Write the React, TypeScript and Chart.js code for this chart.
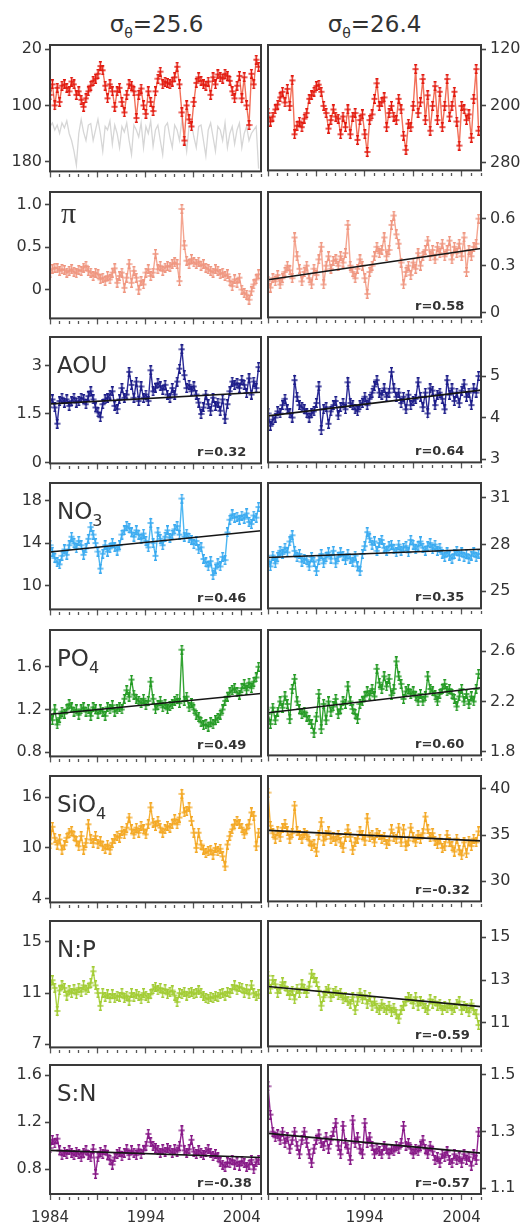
import React, { useEffect, useRef } from 'react';
import { Chart, registerables } from 'chart.js';

Chart.register(...registerables);

// sampling times, decimal years (quarterly)
const YEARS = [
  1984, 1984.25, 1984.5, 1984.75, 1985, 1985.25, 1985.5, 1985.75,
  1986, 1986.25, 1986.5, 1986.75, 1987, 1987.25, 1987.5, 1987.75,
  1988, 1988.25, 1988.5, 1988.75, 1989, 1989.25, 1989.5, 1989.75,
  1990, 1990.25, 1990.5, 1990.75, 1991, 1991.25, 1991.5, 1991.75,
  1992, 1992.25, 1992.5, 1992.75, 1993, 1993.25, 1993.5, 1993.75,
  1994, 1994.25, 1994.5, 1994.75, 1995, 1995.25, 1995.5, 1995.75,
  1996, 1996.25, 1996.5, 1996.75, 1997, 1997.25, 1997.5, 1997.75,
  1998, 1998.25, 1998.5, 1998.75, 1999, 1999.25, 1999.5, 1999.75,
  2000, 2000.25, 2000.5, 2000.75, 2001, 2001.25, 2001.5, 2001.75,
  2002, 2002.25, 2002.5, 2002.75, 2003, 2003.25, 2003.5, 2003.75,
  2004, 2004.25, 2004.5, 2004.75, 2005, 2005.25, 2005.5, 2005.75,
];

const YEAR_TICKS = [
  1984, 1985, 1986, 1987, 1988, 1989, 1990, 1991, 1992, 1993, 1994, 1995,
  1996, 1997, 1998, 1999, 2000, 2001, 2002, 2003, 2004, 2005, 2006,
];
const MAJOR_YEARS = [1984, 1989, 1994, 1999, 2004];
const LABELED_YEARS_LEFT = [1984, 1994, 2004];
const LABELED_YEARS_RIGHT = [1994, 2004];
const TREND_YEARS = [1984, 2006];

// depth of isopycnal (m) and grey mixed-layer line
const DEPTH_256 = [
  85, 70, 100, 75, 95, 72, 70, 75, 80, 66, 70,
  85, 80, 92, 102, 90, 80, 72, 65, 62, 55, 44,
  50, 72, 90, 70, 80, 102, 80, 75, 95, 110, 85,
  70, 72, 80, 118, 85, 76, 100, 112, 80, 95, 108,
  80, 62, 52, 70, 66, 68, 70, 66, 60, 45, 70,
  110, 150, 100, 120, 130, 95, 68, 60, 65, 70, 72,
  66, 85, 60, 70, 56, 60, 62, 55, 58, 65, 80,
  90, 72, 58, 90, 60, 100, 128, 55, 70, 35, 45,
];
const MLD_256 = [
  130, 125, 135, 128, 140, 125, 132, 122, 140, 150, 165,
  185, 140, 120, 138, 150, 128, 126, 150, 135, 120, 140,
  165, 130, 135, 122, 155, 128, 140, 160, 130, 138, 125,
  150, 170, 128, 135, 145, 125, 160, 130, 140, 122, 158,
  135, 128, 150, 170, 130, 125, 145, 160, 128, 135, 150,
  120, 140, 165, 130, 125, 145, 160, 130, 128, 150, 172,
  135, 125, 145, 165, 130, 135, 150, 125, 160, 140, 130,
  155, 135, 125, 160, 140, 130, 150, 140, 135, 130, 190,
];
const DEPTH_264 = [
  210, 222, 215, 205, 198, 188, 180, 195, 176, 200, 164,
  240, 228, 222, 230, 218, 210, 190, 185, 180, 172, 170,
  180, 200, 210, 232, 220, 205, 215, 218, 240, 215, 230,
  205, 240, 215, 210, 248, 220, 212, 240, 265, 220, 212,
  190, 168, 200, 195, 188, 230, 210, 200, 215, 220, 190,
  205, 242, 262, 225, 230, 200, 148, 210, 195, 162, 220,
  185, 235, 200, 172, 220, 180, 230, 200, 162, 215, 200,
  180, 222, 256, 200, 205, 220, 212, 245, 190, 148, 235,
];

const PI_256 = [
  0.2, 0.24, 0.26, 0.25, 0.22, 0.24, 0.23, 0.2, 0.22, 0.24, 0.21,
  0.19, 0.23, 0.22, 0.26, 0.28, 0.22, 0.2, 0.16, 0.2, 0.18, 0.12,
  0.14, 0.1, 0.16, 0.12, 0.2, 0.25, 0.08, 0.16, 0.2, 0.02, 0.14,
  0.3, 0.08, 0.22, 0.14, 0.0, 0.1, 0.06, 0.2, 0.24, 0.16, 0.2,
  0.42, 0.24, 0.28, 0.22, 0.26, 0.28, 0.27, 0.3, 0.32, 0.3, 0.1,
  0.95, 0.52, 0.34, 0.3, 0.36, 0.32, 0.3, 0.33, 0.28, 0.3, 0.26,
  0.24, 0.22, 0.2, 0.24, 0.22, 0.18, 0.2, 0.16, 0.18, 0.1, 0.04,
  0.12, 0.08, 0.14, 0.0, -0.04, -0.06, -0.12, -0.02, 0.06, 0.12, 0.18,
];
const PI_264 = [
  0.2, 0.16, 0.22, 0.2, 0.24, 0.18, 0.22, 0.26, 0.3, 0.27, 0.22,
  0.48, 0.36, 0.28, 0.2, 0.26, 0.3, 0.22, 0.18, 0.28, 0.24, 0.34,
  0.42, 0.18, 0.3, 0.36, 0.28, 0.33, 0.34, 0.3, 0.36, 0.32, 0.38,
  0.56, 0.3, 0.26, 0.22, 0.28, 0.34, 0.3, 0.22, 0.12, 0.26, 0.3,
  0.36, 0.42, 0.38, 0.4, 0.48, 0.36, 0.4, 0.56, 0.62, 0.5, 0.44,
  0.32, 0.18, 0.26, 0.3, 0.24, 0.32, 0.28, 0.38, 0.3, 0.36, 0.4,
  0.46, 0.36, 0.4, 0.34, 0.42, 0.38, 0.44, 0.36, 0.4, 0.46, 0.34,
  0.42, 0.38, 0.44, 0.36, 0.48, 0.26, 0.4, 0.36, 0.42, 0.44, 0.6,
];

const AOU_256 = [
  1.85, 1.95, 1.7, 1.2, 1.9, 2.0, 1.85, 1.95, 1.75, 1.9, 2.0,
  1.85, 1.9, 2.0, 1.95, 1.8, 2.05, 2.2, 1.95, 1.7, 1.55, 1.4,
  1.8, 1.95, 2.0, 2.1, 2.2, 1.75, 1.65, 1.95, 2.3, 2.0, 2.1,
  2.8, 2.4, 2.0, 2.5, 1.9, 2.35, 2.0, 2.1, 1.9, 2.85, 2.2,
  2.3, 2.45, 2.35, 2.25, 2.4, 2.1, 2.0, 2.3, 2.1, 2.5, 2.9,
  3.5, 2.7, 2.3, 2.4, 2.2, 2.35, 2.1, 1.85, 1.5, 1.7, 2.1,
  1.8, 1.6, 2.0, 1.75, 1.85, 1.6, 1.95, 1.35, 1.8, 2.2, 2.5,
  2.4, 2.45, 2.3, 2.55, 2.4, 2.15, 2.6, 2.1, 2.5, 2.3, 2.95,
];
const AOU_264 = [
  4.1, 3.8, 3.95, 4.0, 4.15, 4.1, 4.3, 4.45, 4.2, 4.1, 4.0,
  4.9, 4.5, 4.3, 4.25, 4.2, 4.1, 4.0, 4.1, 4.15, 4.35, 4.75,
  3.7, 4.2, 4.25, 3.85, 4.15, 4.3, 4.4, 4.05, 4.25, 4.35, 4.2,
  4.85, 4.35, 4.3, 4.2, 4.15, 4.3, 4.35, 4.5, 4.3, 4.45, 4.6,
  4.75, 4.9, 4.6, 4.55, 4.7, 4.5, 4.6, 5.1, 4.7, 4.5, 4.6,
  4.35, 4.5, 4.2, 4.55, 4.3, 4.4, 4.45, 4.85, 4.5, 4.25, 4.6,
  4.1, 4.7, 4.65, 4.3, 4.55, 4.6, 4.45, 4.2, 4.9, 4.55, 4.7,
  4.4, 4.6, 4.35, 4.65, 4.8, 4.5, 4.6, 4.3, 4.7, 4.6, 5.0,
];

const NO3_256 = [
  13.8, 13.2, 12.6, 12.2, 12.0, 12.8, 13.4, 12.9, 13.8, 14.6, 14.0,
  13.5, 14.2, 13.8, 12.9, 13.5, 14.4, 15.5, 14.8, 14.0, 13.2, 11.6,
  13.0, 13.8, 13.2, 13.5, 14.0, 13.6, 13.3, 13.8, 14.8, 15.2, 15.6,
  15.4, 15.0, 14.6, 15.2, 14.8, 14.4, 14.9, 14.2, 13.6, 15.9, 14.0,
  12.8, 15.0, 14.4, 13.8, 14.6, 15.2, 14.5, 14.8, 15.3, 15.6, 14.8,
  18.2, 14.6, 14.9, 14.5, 14.3, 13.9, 14.2, 13.4, 13.6, 12.5, 12.2,
  11.8, 12.3, 11.0, 11.6, 12.1, 11.8, 12.7, 12.4, 15.0, 16.2, 16.7,
  16.4, 16.5, 16.2, 16.6, 16.3, 16.8, 16.0, 15.8, 16.6, 16.4, 17.4,
];
const NO3_264 = [
  27.0, 26.6, 27.3, 26.8, 27.2, 27.6, 27.4, 27.8, 27.5, 28.2, 28.6,
  27.6, 27.2, 27.4, 26.9, 27.1, 27.0, 26.6, 27.2, 26.9, 26.3, 27.0,
  27.4, 26.8, 27.2, 27.5, 27.1, 27.6, 26.8, 27.2, 27.5, 27.3, 27.0,
  27.4, 27.1, 26.9, 27.3, 26.6, 26.3, 27.4, 27.9, 28.8, 28.4, 28.0,
  28.2, 27.6, 28.1, 28.3, 27.8, 27.6, 27.9, 28.0, 27.7, 27.5, 28.0,
  27.6, 27.8, 27.9, 27.5, 28.3, 28.0, 27.7, 27.9, 28.2, 27.8, 27.6,
  27.9, 28.1, 27.7, 28.0, 27.6, 27.8, 27.4, 27.2, 27.5, 27.3, 27.1,
  27.4, 27.6, 27.3, 27.5, 27.2, 27.4, 27.1, 27.3, 27.5, 27.2, 27.4,
];

const PO4_256 = [
  1.15, 1.1, 1.2, 1.06, 1.12, 1.18, 1.16, 1.2, 1.25, 1.22, 1.18,
  1.2, 1.15, 1.2, 1.22, 1.18, 1.2, 1.14, 1.22, 1.2, 1.16, 1.2,
  1.18, 1.14, 1.22, 1.2, 1.24, 1.18, 1.2, 1.22, 1.2, 1.3, 1.38,
  1.32, 1.48, 1.34, 1.3, 1.28, 1.26, 1.3, 1.24, 1.28, 1.46, 1.3,
  1.2, 1.24, 1.28, 1.22, 1.25, 1.2, 1.23, 1.25, 1.28, 1.3, 1.26,
  1.76, 1.28, 1.32, 1.22, 1.26, 1.2, 1.15, 1.13, 1.08, 1.05, 1.06,
  1.04, 1.08, 1.06, 1.1, 1.12, 1.15, 1.2, 1.28, 1.32, 1.36, 1.38,
  1.4, 1.36, 1.34, 1.4, 1.44, 1.38, 1.45, 1.4, 1.46, 1.5, 1.6,
];
const PO4_264 = [
  2.1, 2.02, 2.15, 2.05, 2.12, 2.2, 2.15, 2.24, 2.18, 2.06, 2.3,
  2.38, 2.2, 2.14, 2.1, 2.12, 2.08, 2.05, 2.02, 1.95, 2.08, 2.26,
  1.98, 2.18, 2.05, 2.2, 2.12, 2.16, 2.22, 2.1, 2.14, 2.2, 2.18,
  2.32, 2.2, 2.14, 2.1, 2.06, 2.18, 2.2, 2.24, 2.28, 2.25, 2.3,
  2.24, 2.46, 2.35, 2.3, 2.4, 2.32, 2.38, 2.25, 2.3, 2.52, 2.4,
  2.34, 2.22, 2.28, 2.3, 2.26, 2.28, 2.24, 2.2, 2.26, 2.2, 2.24,
  2.4, 2.3, 2.28, 2.25, 2.2, 2.26, 2.3, 2.34, 2.28, 2.3, 2.26,
  2.22, 2.16, 2.24, 2.3, 2.2, 2.26, 2.18, 2.24, 2.2, 2.3, 2.42,
];

const SIO4_256 = [
  10.5, 12.5, 11.2, 10.4, 11.0, 9.8, 10.3, 11.2, 11.8, 12.0, 11.4,
  10.8, 10.2, 11.4, 9.8, 10.6, 12.8, 11.0, 10.6, 11.4, 10.5, 10.8,
  10.2, 9.9, 10.4, 9.8, 10.6, 11.0, 11.4, 11.2, 12.0, 11.6, 12.4,
  13.6, 12.2, 11.6, 12.4, 11.8, 12.6, 12.2, 11.6, 12.8, 14.8, 13.0,
  12.6, 13.2, 12.4, 11.8, 12.2, 12.6, 12.4, 12.8, 13.4, 12.8, 13.6,
  16.4, 14.2, 14.4, 14.8, 13.2, 11.8, 10.0, 11.8, 10.4, 9.8, 9.4,
  9.6, 9.8, 9.2, 10.0, 9.6, 9.9, 9.0, 7.8, 10.4, 11.4, 12.2,
  12.8, 13.2, 12.8, 12.4, 11.6, 12.2, 12.8, 14.2, 13.8, 10.2, 11.8,
];
const SIO4_264 = [
  39.6, 36.0, 35.2, 34.6, 35.4, 34.8, 35.8, 36.2, 35.4, 34.6, 35.2,
  38.2, 35.4, 35.0, 34.6, 35.2, 35.0, 34.4, 33.8, 34.0, 33.2, 35.0,
  36.4, 34.4, 35.0, 35.4, 34.6, 34.8, 34.4, 35.0, 34.2, 33.6, 34.8,
  35.6, 34.8, 33.4, 34.2, 34.6, 35.4, 35.0, 34.4, 36.8, 34.8, 35.0,
  34.2, 35.2, 35.0, 34.6, 34.8, 34.0, 34.4, 35.6, 34.8, 34.6, 35.8,
  34.2, 35.6, 33.8, 34.4, 35.8, 34.8, 34.2, 35.0, 34.6, 35.2, 37.0,
  35.6, 34.8, 35.2, 34.4, 34.0, 34.6, 33.6, 33.8, 35.0, 34.2, 33.8,
  33.2, 34.6, 33.4, 32.8, 34.2, 33.0, 34.4, 33.8, 34.6, 34.2, 35.4,
];

const NP_256 = [
  11.6, 12.0, 11.4, 9.6, 11.2, 11.6, 11.4, 10.8, 11.2, 11.0, 11.3,
  10.9, 11.4, 11.1, 11.6, 11.2, 11.4, 11.8, 12.7, 11.6, 11.0, 10.0,
  11.0, 10.7, 10.9, 10.6, 10.9, 10.6, 10.8, 10.7, 11.0, 10.6, 10.8,
  10.4, 11.0, 10.7, 10.9, 10.8, 10.5, 11.0, 10.8, 10.6, 10.9, 11.3,
  11.5, 11.2, 11.4, 11.0, 11.3, 10.9, 11.1, 11.2, 10.8, 10.3, 11.0,
  10.9, 11.1, 10.8, 11.0, 11.1, 10.9, 11.0, 11.2, 11.0, 10.8, 10.6,
  10.5, 10.7, 10.6, 10.8, 10.7, 10.9, 11.0, 10.8, 11.1, 11.0, 11.3,
  11.6, 11.2, 11.5, 11.4, 11.0, 11.3, 10.9, 11.6, 11.0, 10.8, 10.9,
];
const NP_264 = [
  13.2, 12.6, 13.0, 12.8, 12.4, 12.6, 12.9, 12.7, 12.5, 12.3, 12.5,
  12.1, 12.6, 12.4, 12.8, 12.6, 12.4, 12.7, 13.3, 13.1, 12.9, 12.5,
  11.8, 12.2, 12.5, 12.6, 12.2, 12.4, 12.5, 12.3, 12.4, 12.1, 12.2,
  12.0, 11.9, 12.2, 11.6, 12.0, 12.4, 12.1, 12.3, 11.9, 12.2, 11.8,
  12.0, 11.7, 11.6, 11.9, 11.7, 11.6, 11.8, 11.5, 11.7, 11.4, 11.2,
  11.6, 11.8, 12.0, 12.2, 12.1, 11.9, 12.2, 11.8, 12.0, 11.9, 11.7,
  11.6, 12.1, 11.9, 12.0, 11.8, 11.9, 11.6, 11.8, 11.7, 11.9, 11.6,
  11.7, 11.9, 12.0, 11.6, 11.8, 11.7, 11.5, 11.9, 11.6, 11.4, 10.9,
];

const SN_256 = [
  0.98, 1.05, 1.02, 1.06, 0.96, 0.92, 0.95, 0.93, 0.96, 0.94, 0.92,
  0.95, 0.93, 0.9, 0.94, 0.96, 0.92, 0.9, 0.97, 0.76, 0.9, 0.95,
  0.93, 0.96, 0.92, 0.88, 0.84, 0.9, 0.93, 0.95, 0.91, 0.94, 0.97,
  0.92, 0.96, 0.94, 0.92, 0.97, 0.93, 0.96, 1.0, 1.1, 1.03, 1.0,
  0.98, 0.96, 0.94, 0.97, 0.95, 0.98, 0.96, 0.94, 0.97, 0.95, 1.0,
  1.13, 0.96, 0.94, 0.97, 1.05, 0.95, 0.93, 0.96, 0.94, 0.92, 0.95,
  0.97, 0.94, 0.91, 0.93, 0.9, 0.86, 0.84, 0.82, 0.86, 0.85, 0.88,
  0.84, 0.86, 0.83, 0.87, 0.85, 0.82, 0.84, 0.88, 0.8, 0.86, 0.88,
];
const SN_264 = [
  1.46, 1.36, 1.3, 1.28, 1.29, 1.27, 1.3, 1.26, 1.28, 1.24, 1.27,
  1.3, 1.25, 1.22, 1.27, 1.3, 1.26, 1.22, 1.19, 1.24, 1.27, 1.29,
  1.26, 1.25, 1.28, 1.24, 1.27, 1.3, 1.33, 1.25, 1.22, 1.32, 1.26,
  1.24, 1.2, 1.34, 1.26, 1.28, 1.24, 1.22, 1.33, 1.26, 1.28, 1.25,
  1.22, 1.24, 1.23, 1.22, 1.25, 1.24, 1.22, 1.24, 1.23, 1.25, 1.24,
  1.26, 1.32, 1.25, 1.26, 1.24, 1.22, 1.24, 1.23, 1.25, 1.27, 1.24,
  1.22, 1.25, 1.23, 1.2, 1.21, 1.19, 1.22, 1.21, 1.23, 1.2, 1.19,
  1.22, 1.2, 1.21, 1.19, 1.22, 1.2, 1.21, 1.18, 1.22, 1.2, 1.3,
];

// linear fits, values at 1984 and 2006
const TREND_PI_264 = [0.21, 0.41];
const TREND_AOU_256 = [1.81, 2.17];
const TREND_AOU_264 = [4.04, 4.66];
const TREND_NO3_256 = [13.17, 15.17];
const TREND_NO3_264 = [27.17, 27.7];
const TREND_PO4_256 = [1.155, 1.35];
const TREND_PO4_264 = [2.11, 2.31];
const TREND_SIO4_264 = [35.5, 34.36];
const TREND_NP_264 = [12.7, 11.76];
const TREND_SN_256 = [0.96, 0.9];
const TREND_SN_264 = [1.294, 1.224];

const ROW_TOPS = [45, 192, 337, 483, 630, 776, 921, 1065];
const PANEL_H = 129;
const PAD_TOP = 14;
const TEXT = '#333333';
const TICK_FONT = { family: '"DejaVu Sans", sans-serif', size: 16 };

interface PanelSpec {
  data: number[];
  extra?: number[];
  line: string;
  point: string;
  min: number;
  max: number;
  reverse?: boolean;
  ticks: string[];
  trend?: number[];
  r?: string;
  label?: string;
  sub?: string;
  serif?: boolean;
}

const LEFT: PanelSpec[] = [
  { data: DEPTH_256, extra: MLD_256, line: '#f2705a', point: '#e2180e', min: 14, max: 194, reverse: true, ticks: ['20', '100', '180'] },
  { data: PI_256, line: '#f4a590', point: '#ef9680', min: -0.34, max: 1.15, ticks: ['0', '0.5', '1.0'], label: 'π', serif: true },
  { data: AOU_256, line: '#2a2a96', point: '#1c1c88', min: -0.03, max: 3.88, ticks: ['0', '1.5', '3'], trend: TREND_AOU_256, r: 'r=0.32', label: 'AOU' },
  { data: NO3_256, line: '#4cb6f2', point: '#3aaaf0', min: 7.76, max: 19.66, ticks: ['10', '14', '18'], trend: TREND_NO3_256, r: 'r=0.46', label: 'NO', sub: '3' },
  { data: PO4_256, line: '#34a434', point: '#239a23', min: 0.76, max: 1.945, ticks: ['0.8', '1.2', '1.6'], trend: TREND_PO4_256, r: 'r=0.49', label: 'PO', sub: '4' },
  { data: SIO4_256, line: '#f6b138', point: '#f3a824', min: 3.54, max: 18.52, ticks: ['4', '10', '16'], label: 'SiO', sub: '4' },
  { data: NP_256, line: '#acd444', point: '#a2cc34', min: 6.75, max: 16.63, ticks: ['7', '11', '15'], label: 'N:P' },
  { data: SN_256, line: '#932693', point: '#861886', min: 0.59, max: 1.685, ticks: ['0.8', '1.2', '1.6'], trend: TREND_SN_256, r: 'r=-0.38', label: 'S:N' },
];

const RIGHT: PanelSpec[] = [
  { data: DEPTH_264, line: '#f2705a', point: '#e2180e', min: 114, max: 291, reverse: true, ticks: ['120', '200', '280'] },
  { data: PI_264, line: '#f4a590', point: '#ef9680', min: -0.03, max: 0.77, ticks: ['0', '0.3', '0.6'], trend: TREND_PI_264, r: 'r=0.58' },
  { data: AOU_264, line: '#2a2a96', point: '#1c1c88', min: 2.92, max: 5.94, ticks: ['3', '4', '5'], trend: TREND_AOU_264, r: 'r=0.64' },
  { data: NO3_264, line: '#4cb6f2', point: '#3aaaf0', min: 23.9, max: 31.96, ticks: ['25', '28', '31'], trend: TREND_NO3_264, r: 'r=0.35' },
  { data: PO4_264, line: '#34a434', point: '#239a23', min: 1.77, max: 2.77, ticks: ['1.8', '2.2', '2.6'], trend: TREND_PO4_264, r: 'r=0.60' },
  { data: SIO4_264, line: '#f6b138', point: '#f3a824', min: 27.8, max: 41.4, ticks: ['30', '35', '40'], trend: TREND_SIO4_264, r: 'r=-0.32' },
  { data: NP_264, line: '#acd444', point: '#a2cc34', min: 9.9, max: 15.76, ticks: ['11', '13', '15'], trend: TREND_NP_264, r: 'r=-0.59' },
  { data: SN_264, line: '#932693', point: '#861886', min: 1.08, max: 1.535, ticks: ['1.1', '1.3', '1.5'], trend: TREND_SN_264, r: 'r=-0.57' },
];

// small "+" marker with a taller vertical stroke, like the error-barred points
function makeMarker(color: string): HTMLCanvasElement {
  const c = document.createElement('canvas');
  c.width = 7;
  c.height = 10;
  const g = c.getContext('2d');
  if (g) {
    g.strokeStyle = color;
    g.lineWidth = 1.4;
    g.beginPath();
    g.moveTo(3.5, 0); g.lineTo(3.5, 10);
    g.moveTo(0.5, 5); g.lineTo(6.5, 5);
    g.moveTo(2, 0.7); g.lineTo(5, 0.7);
    g.moveTo(2, 9.3); g.lineTo(5, 9.3);
    g.stroke();
  }
  return c;
}

// frame around the plot area plus the in-panel texts
const panelDecor = {
  id: 'panelDecor',
  afterDraw(chart: any, _args: any, opts: any) {
    const { ctx, chartArea: a } = chart;
    ctx.save();
    ctx.strokeStyle = '#3a3a3a';
    ctx.lineWidth = 2;
    ctx.strokeRect(a.left, a.top, a.right - a.left, a.bottom - a.top);
    ctx.fillStyle = TEXT;
    ctx.textBaseline = 'alphabetic';
    ctx.textAlign = 'left';
    if (opts.label) {
      if (opts.serif) {
        ctx.font = '30px "Liberation Serif", serif';
        ctx.fillText(opts.label, a.left + 11, a.top + 31);
      } else {
        ctx.font = '23px "DejaVu Sans", sans-serif';
        ctx.fillText(opts.label, a.left + 7, a.top + 36);
        if (opts.sub) {
          const w = ctx.measureText(opts.label).width;
          ctx.font = '16px "DejaVu Sans", sans-serif';
          ctx.fillText(opts.sub, a.left + 7 + w, a.top + 43);
        }
      }
    }
    if (opts.r) {
      ctx.font = 'bold 13px "DejaVu Sans", sans-serif';
      ctx.fillText(opts.r, a.left + 147, a.bottom - 7);
    }
    ctx.restore();
  },
};

const Panel: React.FC<{ spec: PanelSpec; side: 'left' | 'right'; row: number }> = ({ spec, side, row }) => {
  const canvasRef = useRef<HTMLCanvasElement>(null);
  const isLast = row === ROW_TOPS.length - 1;
  const axisH = isLast ? 32 : 10;
  const isLeft = side === 'left';

  useEffect(() => {
    if (!canvasRef.current) return;
    const ctx = canvasRef.current.getContext('2d');
    if (!ctx) return;

    const datasets: any[] = [];
    if (spec.trend) {
      datasets.push({
        data: TREND_YEARS.map((x, i) => ({ x, y: spec.trend![i] })),
        borderColor: '#151515',
        borderWidth: 1.6,
        pointRadius: 0,
        clip: 0,
      });
    }
    datasets.push({
      data: YEARS.map((x, i) => ({ x, y: spec.data[i] })),
      borderColor: spec.line,
      borderWidth: 1.4,
      pointStyle: makeMarker(spec.point),
      pointRadius: 3,
      clip: 0,
    });
    if (spec.extra) {
      datasets.push({
        data: YEARS.map((x, i) => ({ x, y: spec.extra![i] })),
        borderColor: '#d6d6d6',
        borderWidth: 1.3,
        pointRadius: 0,
        clip: 0,
      });
    }

    const labeled = isLeft ? LABELED_YEARS_LEFT : LABELED_YEARS_RIGHT;

    const chart = new Chart(ctx, {
      type: 'line',
      data: { datasets },
      plugins: [panelDecor],
      options: {
        responsive: true,
        maintainAspectRatio: false,
        animation: false,
        events: [],
        layout: {
          // x tick padding also widens the sides, so leave room for it
          padding: isLeft
            ? { top: PAD_TOP, right: 9, left: 0, bottom: 0 }
            : { top: PAD_TOP, right: 0, left: 10, bottom: 0 },
        },
        plugins: {
          legend: { display: false },
          tooltip: { enabled: false },
          panelDecor: { label: spec.label, sub: spec.sub, serif: spec.serif, r: spec.r },
        } as any,
        scales: {
          x: {
            type: 'linear',
            position: 'bottom',
            min: 1984,
            max: 2006,
            afterBuildTicks: (s: any) => { s.ticks = YEAR_TICKS.map(v => ({ value: v })); },
            afterFit: (s: any) => { s.height = axisH; },
            border: { display: false },
            grid: {
              drawOnChartArea: false,
              drawTicks: true,
              tickLength: 6,
              tickColor: '#555555',
              tickWidth: 1.3,
              tickBorderDash: (c: any) => (MAJOR_YEARS.includes(c.tick?.value) ? [] : [3, 3]),
              tickBorderDashOffset: (c: any) => (MAJOR_YEARS.includes(c.tick?.value) ? 0 : 3),
            } as any,
            ticks: {
              display: isLast,
              autoSkip: false,
              maxRotation: 0,
              padding: 9,
              color: TEXT,
              font: { family: '"DejaVu Sans", sans-serif', size: 15 },
              callback: (v: any) => (labeled.includes(Number(v)) ? String(v) : ''),
            },
          },
          y: {
            type: 'linear',
            position: side,
            min: spec.min,
            max: spec.max,
            reverse: !!spec.reverse,
            afterBuildTicks: (s: any) => { s.ticks = spec.ticks.map(t => ({ value: parseFloat(t) })); },
            afterFit: (s: any) => { s.width = isLeft ? 50 : 40; },
            border: { display: false },
            grid: {
              drawOnChartArea: false,
              drawTicks: true,
              tickLength: 5,
              tickColor: '#444444',
              tickWidth: 1.6,
            },
            ticks: {
              autoSkip: false,
              padding: isLeft ? 3 : 4,
              color: TEXT,
              font: TICK_FONT,
              callback: (_v: any, i: number) => spec.ticks[i],
            },
          },
        },
      } as any,
    });

    return () => { chart.destroy(); };
  }, [spec, side, isLast, axisH, isLeft]);

  return (
    <div
      style={{
        position: 'absolute',
        left: isLeft ? 0 : 258,
        top: ROW_TOPS[row] - PAD_TOP,
        width: isLeft ? 270 : 263,
        height: PAD_TOP + PANEL_H + axisH,
      }}
    >
      <canvas ref={canvasRef} />
    </div>
  );
};

const Title: React.FC<{ left: number; value: string }> = ({ left, value }) => (
  <div
    style={{
      position: 'absolute',
      left,
      width: 213,
      top: 10,
      textAlign: 'center',
      fontFamily: '"DejaVu Sans", sans-serif',
      fontSize: 23,
      lineHeight: '28px',
      color: TEXT,
      whiteSpace: 'nowrap',
    }}
  >
    σ<span style={{ fontSize: 14, position: 'relative', top: 6 }}>θ</span>={value}
  </div>
);

export default function App() {
  return (
    <div
      style={{
        position: 'absolute',
        left: 0,
        top: 0,
        width: 521,
        height: 1226,
        overflow: 'hidden',
        background: '#ffffff',
      }}
    >
      <Title left={50} value="25.6" />
      <Title left={268} value="26.4" />
      {LEFT.map((spec, i) => (
        <Panel key={`l${i}`} spec={spec} side="left" row={i} />
      ))}
      {RIGHT.map((spec, i) => (
        <Panel key={`r${i}`} spec={spec} side="right" row={i} />
      ))}
    </div>
  );
}
